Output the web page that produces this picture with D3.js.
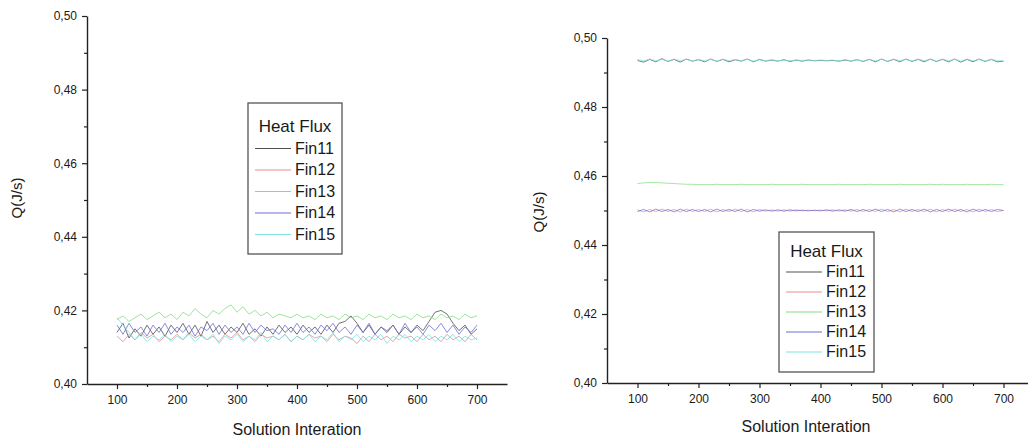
<!DOCTYPE html>
<html>
<head>
<meta charset="utf-8">
<script src="https://cdn.jsdelivr.net/npm/d3@7"></script>
<style>
  body { margin: 0; background: #fff; }
  text { font-family: "Liberation Sans", Arial, sans-serif; fill: #1a1a1a; }
</style>
</head>
<body>
<svg id="chart"></svg>
<script>
var width = 1028, height = 443

var seriesNames = ['Fin11', 'Fin12', 'Fin13', 'Fin14', 'Fin15']
var seriesColors = ['#505050', '#ec8c8c', '#85de85', '#6e6ed8', '#7fe3e3']
var yTicks = [0.40, 0.42, 0.44, 0.46, 0.48, 0.50]
var xTicks = [100, 200, 300, 400, 500, 600, 700]

var iterations = [
  100, 110, 120, 130, 140, 150, 160, 170, 180, 190,
  200, 210, 220, 230, 240, 250, 260, 270, 280, 290,
  300, 310, 320, 330, 340, 350, 360, 370, 380, 390,
  400, 410, 420, 430, 440, 450, 460, 470, 480, 490,
  500, 510, 520, 530, 540, 550, 560, 570, 580, 590,
  600, 610, 620, 630, 640, 650, 660, 670, 680, 690,
  700]

// left chart
var leftFin11 = [
  0.4140, 0.4165, 0.4125, 0.4150, 0.4130, 0.4160, 0.4135, 0.4155, 0.4130, 0.4160,
  0.4140, 0.4165, 0.4135, 0.4160, 0.4130, 0.4170, 0.4140, 0.4160, 0.4135, 0.4155,
  0.4140, 0.4165, 0.4135, 0.4150, 0.4130, 0.4155, 0.4135, 0.4160, 0.4140, 0.4155,
  0.4135, 0.4160, 0.4140, 0.4155, 0.4135, 0.4160, 0.4140, 0.4165, 0.4170, 0.4185,
  0.4165, 0.4140, 0.4160, 0.4135, 0.4155, 0.4140, 0.4160, 0.4135, 0.4155, 0.4140,
  0.4160, 0.4145, 0.4170, 0.4195, 0.4200, 0.4190, 0.4165, 0.4145, 0.4160, 0.4135,
  0.4150]
var leftFin12 = [
  0.4130, 0.4115, 0.4135, 0.4120, 0.4140, 0.4125, 0.4135, 0.4115, 0.4130, 0.4120,
  0.4135, 0.4120, 0.4140, 0.4125, 0.4135, 0.4120, 0.4130, 0.4115, 0.4135, 0.4125,
  0.4140, 0.4120, 0.4130, 0.4115, 0.4135, 0.4125, 0.4130, 0.4120, 0.4135, 0.4115,
  0.4130, 0.4120, 0.4135, 0.4125, 0.4130, 0.4115, 0.4135, 0.4120, 0.4130, 0.4125,
  0.4110, 0.4130, 0.4115, 0.4135, 0.4120, 0.4130, 0.4115, 0.4135, 0.4125, 0.4130,
  0.4115, 0.4135, 0.4120, 0.4130, 0.4115, 0.4135, 0.4120, 0.4130, 0.4115, 0.4135,
  0.4120]
var leftFin13 = [
  0.4175, 0.4185, 0.4170, 0.4180, 0.4190, 0.4175, 0.4185, 0.4195, 0.4180, 0.4190,
  0.4175, 0.4195, 0.4185, 0.4205, 0.4190, 0.4180, 0.4200, 0.4190, 0.4205, 0.4215,
  0.4195, 0.4210, 0.4190, 0.4200, 0.4185, 0.4195, 0.4180, 0.4190, 0.4185, 0.4180,
  0.4190, 0.4180, 0.4185, 0.4175, 0.4190, 0.4180, 0.4185, 0.4175, 0.4190, 0.4180,
  0.4185, 0.4175, 0.4190, 0.4180, 0.4185, 0.4175, 0.4190, 0.4180, 0.4185, 0.4175,
  0.4190, 0.4180, 0.4185, 0.4175, 0.4190, 0.4180, 0.4185, 0.4175, 0.4190, 0.4180,
  0.4185]
var leftFin14 = [
  0.4160, 0.4135, 0.4165, 0.4140, 0.4155, 0.4130, 0.4160, 0.4140, 0.4165, 0.4135,
  0.4155, 0.4140, 0.4160, 0.4130, 0.4155, 0.4145, 0.4165, 0.4135, 0.4160, 0.4140,
  0.4155, 0.4135, 0.4165, 0.4140, 0.4160, 0.4145, 0.4150, 0.4135, 0.4160, 0.4140,
  0.4165, 0.4140, 0.4155, 0.4135, 0.4160, 0.4145, 0.4165, 0.4140, 0.4155, 0.4135,
  0.4160, 0.4140, 0.4165, 0.4135, 0.4155, 0.4145, 0.4160, 0.4135, 0.4165, 0.4140,
  0.4155, 0.4135, 0.4160, 0.4145, 0.4165, 0.4140, 0.4160, 0.4135, 0.4155, 0.4140,
  0.4160]
var leftFin15 = [
  0.4180, 0.4160, 0.4140, 0.4120, 0.4135, 0.4115, 0.4130, 0.4120, 0.4135, 0.4115,
  0.4130, 0.4120, 0.4135, 0.4115, 0.4130, 0.4120, 0.4135, 0.4110, 0.4130, 0.4120,
  0.4135, 0.4115, 0.4130, 0.4120, 0.4140, 0.4115, 0.4130, 0.4120, 0.4135, 0.4115,
  0.4130, 0.4120, 0.4135, 0.4115, 0.4130, 0.4120, 0.4140, 0.4115, 0.4130, 0.4120,
  0.4135, 0.4115, 0.4130, 0.4120, 0.4135, 0.4110, 0.4130, 0.4120, 0.4135, 0.4115,
  0.4130, 0.4120, 0.4135, 0.4115, 0.4130, 0.4120, 0.4135, 0.4115, 0.4130, 0.4120,
  0.4125]

// right chart
var rightFin11 = [
  0.4935, 0.4930, 0.4938, 0.4931, 0.4940, 0.4932, 0.4938, 0.4930, 0.4939, 0.4933,
  0.4937, 0.4931, 0.4939, 0.4932, 0.4938, 0.4931, 0.4937, 0.4933, 0.4939, 0.4931,
  0.4938, 0.4933, 0.4936, 0.4933, 0.4937, 0.4932, 0.4936, 0.4933, 0.4936, 0.4934,
  0.4935, 0.4934, 0.4935, 0.4933, 0.4936, 0.4933, 0.4937, 0.4932, 0.4938, 0.4931,
  0.4939, 0.4932, 0.4938, 0.4931, 0.4939, 0.4932, 0.4938, 0.4931, 0.4939, 0.4932,
  0.4938, 0.4931, 0.4939, 0.4930, 0.4938, 0.4931, 0.4939, 0.4932, 0.4938, 0.4931,
  0.4933]
var rightFin12 = [
  0.4502, 0.4496, 0.4503, 0.4497, 0.4504, 0.4497, 0.4503, 0.4496, 0.4504, 0.4497,
  0.4503, 0.4497, 0.4504, 0.4496, 0.4503, 0.4497, 0.4504, 0.4497, 0.4503, 0.4496,
  0.4503, 0.4498, 0.4502, 0.4498, 0.4502, 0.4498, 0.4502, 0.4499, 0.4501, 0.4499,
  0.4501, 0.4499, 0.4502, 0.4498, 0.4502, 0.4498, 0.4503, 0.4497, 0.4503, 0.4497,
  0.4504, 0.4497, 0.4503, 0.4496, 0.4504, 0.4497, 0.4503, 0.4497, 0.4504, 0.4496,
  0.4503, 0.4497, 0.4504, 0.4497, 0.4503, 0.4496, 0.4504, 0.4497, 0.4503, 0.4497,
  0.4500]
var rightFin13 = [
  0.4578, 0.4580, 0.4581, 0.4581, 0.4580, 0.4579, 0.4578, 0.4577, 0.4576, 0.4576,
  0.4575, 0.4575, 0.4575, 0.4576, 0.4575, 0.4575, 0.4575, 0.4576, 0.4575, 0.4575,
  0.4575, 0.4575, 0.4576, 0.4575, 0.4575, 0.4575, 0.4575, 0.4576, 0.4575, 0.4575,
  0.4575, 0.4575, 0.4575, 0.4576, 0.4575, 0.4575, 0.4575, 0.4575, 0.4576, 0.4575,
  0.4575, 0.4575, 0.4575, 0.4576, 0.4575, 0.4575, 0.4575, 0.4575, 0.4576, 0.4575,
  0.4576, 0.4575, 0.4575, 0.4575, 0.4576, 0.4575, 0.4575, 0.4575, 0.4576, 0.4575,
  0.4575]
var rightFin14 = [
  0.4497, 0.4503, 0.4496, 0.4504, 0.4497, 0.4503, 0.4496, 0.4504, 0.4497, 0.4503,
  0.4497, 0.4503, 0.4496, 0.4504, 0.4497, 0.4503, 0.4497, 0.4504, 0.4496, 0.4503,
  0.4498, 0.4502, 0.4498, 0.4502, 0.4498, 0.4502, 0.4499, 0.4501, 0.4499, 0.4501,
  0.4499, 0.4502, 0.4498, 0.4502, 0.4498, 0.4503, 0.4497, 0.4503, 0.4497, 0.4504,
  0.4497, 0.4503, 0.4496, 0.4504, 0.4497, 0.4503, 0.4497, 0.4504, 0.4496, 0.4503,
  0.4497, 0.4504, 0.4497, 0.4503, 0.4496, 0.4504, 0.4497, 0.4503, 0.4497, 0.4503,
  0.4500]
var rightFin15 = [
  0.4938, 0.4934, 0.4939, 0.4934, 0.4938, 0.4933, 0.4939, 0.4934, 0.4938, 0.4933,
  0.4938, 0.4934, 0.4938, 0.4933, 0.4939, 0.4934, 0.4938, 0.4934, 0.4938, 0.4933,
  0.4937, 0.4934, 0.4937, 0.4934, 0.4936, 0.4934, 0.4936, 0.4935, 0.4936, 0.4935,
  0.4936, 0.4935, 0.4936, 0.4934, 0.4937, 0.4934, 0.4937, 0.4933, 0.4938, 0.4934,
  0.4938, 0.4933, 0.4939, 0.4934, 0.4938, 0.4933, 0.4939, 0.4934, 0.4938, 0.4933,
  0.4939, 0.4934, 0.4938, 0.4933, 0.4939, 0.4934, 0.4938, 0.4933, 0.4938, 0.4934,
  0.4934]

var svg = d3.select('#chart')
    .attr('width', width)
    .attr('height', height)

var commaFormat = function (d) { return d3.format('.2f')(d).replace('.', ',') }

function drawChart(cfg) {
    var xScale = d3.scaleLinear().domain([50, 750]).range([cfg.left, cfg.right])
    var yScale = d3.scaleLinear().domain([0.40, 0.50]).range([cfg.bottom, cfg.top])

    var g = svg.append('g')

    // lines
    var line = d3.line()
        .x(function (d, i) { return xScale(iterations[i]) })
        .y(function (d) { return yScale(d) })
    cfg.series.forEach(function (s, i) {
        g.append('path')
            .datum(s)
            .attr('fill', 'none')
            .attr('stroke', seriesColors[i])
            .attr('stroke-width', 1)
            .attr('stroke-opacity', cfg.lineOpacity)
            .attr('d', line)
    })

    // x axis
    var xAxis = g.append('g')
        .attr('transform', 'translate(0,' + cfg.bottom + ')')
        .call(d3.axisBottom(xScale).tickValues(xTicks).tickSize(5).tickPadding(6).tickSizeOuter(0))
    xAxis.selectAll('text').style('font-size', '12px')
    g.append('g')
        .attr('transform', 'translate(0,' + cfg.bottom + ')')
        .call(d3.axisBottom(xScale).tickValues([150, 250, 350, 450, 550, 650]).tickSize(3).tickFormat('').tickSizeOuter(0))
        .select('.domain').remove()

    // y axis
    var yAxis = g.append('g')
        .attr('transform', 'translate(' + cfg.left + ',0)')
        .call(d3.axisLeft(yScale).tickValues(yTicks).tickFormat(commaFormat).tickSize(5).tickPadding(5).tickSizeOuter(0))
    yAxis.selectAll('text').style('font-size', '12px')
    g.append('g')
        .attr('transform', 'translate(' + cfg.left + ',0)')
        .call(d3.axisLeft(yScale).tickValues([0.41, 0.43, 0.45, 0.47, 0.49]).tickSize(3).tickFormat('').tickSizeOuter(0))
        .select('.domain').remove()

    g.selectAll('.domain').attr('stroke', '#222').attr('stroke-width', 1.4)
    g.selectAll('.tick line').attr('stroke', '#222').attr('stroke-width', 1.2)

    // titles
    g.append('text')
        .attr('x', cfg.xTitleX)
        .attr('y', cfg.xTitleY)
        .attr('text-anchor', 'middle')
        .style('font-size', '16px')
        .text('Solution Interation')
    g.append('text')
        .attr('transform', 'translate(' + cfg.yTitleX + ',' + cfg.yTitleY + ') rotate(-90)')
        .attr('text-anchor', 'middle')
        .style('font-size', '15px')
        .text('Q(J/s)')

    // legend
    var lg = g.append('g').attr('transform', 'translate(' + cfg.legX + ',' + cfg.legY + ')')
    lg.append('rect')
        .attr('width', cfg.legW)
        .attr('height', cfg.legH)
        .attr('fill', '#fff')
        .attr('stroke', '#555')
        .attr('stroke-width', 1.3)
    lg.append('text')
        .attr('x', cfg.legW / 2)
        .attr('y', cfg.legTitleY)
        .attr('text-anchor', 'middle')
        .style('font-size', '17px')
        .text('Heat Flux')
    seriesNames.forEach(function (name, i) {
        var y = cfg.legTitleY + cfg.legRow * (i + 1)
        lg.append('line')
            .attr('x1', 7).attr('x2', 43)
            .attr('y1', y - 5).attr('y2', y - 5)
            .attr('stroke', seriesColors[i])
            .attr('stroke-width', 1.2)
        lg.append('text')
            .attr('x', 47)
            .attr('y', y)
            .style('font-size', '16px')
            .text(name)
    })
}

drawChart({
    left: 87, right: 507, top: 16, bottom: 384, lineOpacity: 0.8,
    series: [leftFin11, leftFin12, leftFin13, leftFin14, leftFin15],
    xTitleX: 297, xTitleY: 435, yTitleX: 22, yTitleY: 198,
    legX: 248, legY: 103, legW: 94, legH: 151, legTitleY: 29, legRow: 21.5
})

drawChart({
    left: 607, right: 1034, top: 38, bottom: 383, lineOpacity: 0.75,
    series: [rightFin11, rightFin12, rightFin13, rightFin14, rightFin15],
    xTitleX: 806, xTitleY: 432, yTitleX: 544, yTitleY: 212,
    legX: 779, legY: 232, legW: 95, legH: 140, legTitleY: 25, legRow: 20
})
</script>
</body>
</html>
